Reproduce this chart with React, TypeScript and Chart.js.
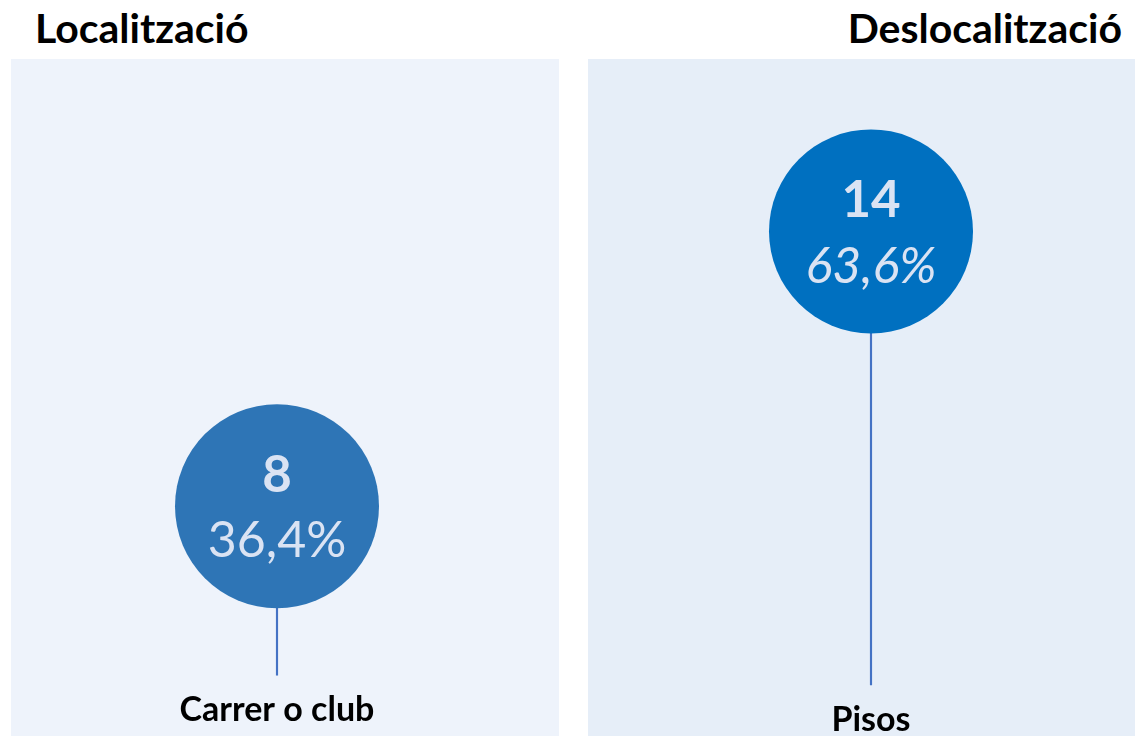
import React, { useEffect, useRef } from "react";
import { Chart, registerables } from "chart.js";

Chart.register(...registerables);

// ---- data ----
const categories = ["Carrer o club", "Pisos"];
const values = [8, 14];
const stemBase = [4.31, 4.1];
const panelTitles = ["Localització", "Deslocalització"];

// ---- styles ----
const circleColors = ["#2E75B6", "#0070C0"];
const percentItalic = [false, true];
const stemColor = "#4472C4";
const innerText = "#DAE3F3";
const FONT = "Lato, 'Open Sans', sans-serif";

const total = values.reduce((a, b) => a + b, 0);
const percentLabels = values.map((v) => ((v / total) * 100).toFixed(1).replace(".", ",") + "%");

const labelPlugin = {
  id: "lollipopLabels",
  afterDatasetsDraw(chart: any) {
    const ctx = chart.ctx;
    const meta = chart.getDatasetMeta(1);
    const y = chart.scales.y;
    ctx.save();
    ctx.textAlign = "center";
    ctx.textBaseline = "middle";
    meta.data.forEach((pt: any, i: number) => {
      ctx.fillStyle = innerText;
      ctx.font = `bold 51px ${FONT}`;
      ctx.fillText(String(values[i]), pt.x, pt.y - 31);
      ctx.font = `${percentItalic[i] ? "italic " : ""}50px ${FONT}`;
      ctx.fillText(percentLabels[i], pt.x, pt.y + 35);
      ctx.fillStyle = "#000000";
      ctx.font = `bold 34px ${FONT}`;
      ctx.fillText(categories[i], pt.x, y.getPixelForValue(stemBase[i]) + 35);
    });
    ctx.restore();
  },
};

export default function App() {
  const ref = useRef<HTMLCanvasElement>(null);
  useEffect(() => {
    const canvas = ref.current;
    if (!canvas) return;
    const chart = new Chart(canvas, {
      type: "bar",
      data: {
        labels: categories,
        datasets: [
          {
            type: "bar",
            data: categories.map((_, i) => [stemBase[i], values[i]]) as any,
            backgroundColor: stemColor,
            barThickness: 1.5,
            order: 2,
            clip: false as any,
          },
          {
            type: "line",
            data: values,
            showLine: false,
            pointRadius: 102,
            pointHoverRadius: 102,
            pointBackgroundColor: circleColors,
            pointBorderWidth: 0,
            borderWidth: 0,
            order: 1,
            clip: false as any,
          } as any,
        ],
      },
      options: {
        animation: false,
        responsive: false,
        maintainAspectRatio: false,
        events: [],
        layout: { autoPadding: false, padding: { left: 277, right: 264, top: 48.2, bottom: 46.6 } },
        plugins: { legend: { display: false }, tooltip: { enabled: false } },
        scales: {
          x: { type: "category", offset: false, display: false },
          y: { min: 4, max: 18, display: false },
        },
      },
      plugins: [labelPlugin],
    });
    return () => chart.destroy();
  }, []);

  const titleStyle: React.CSSProperties = {
    position: "absolute",
    top: 5,
    fontFamily: FONT,
    fontWeight: 700,
    fontSize: 41,
    lineHeight: "46px",
    color: "#000",
    whiteSpace: "nowrap",
  };

  return (
    <div style={{ position: "fixed", left: 0, top: 0, width: 1135, height: 736, background: "#fff", overflow: "hidden" }}>
      <div style={{ position: "absolute", left: 11, top: 59, width: 548, height: 677, background: "#EEF3FB" }} />
      <div style={{ position: "absolute", left: 588, top: 59, width: 547, height: 677, background: "#E6EEF8" }} />
      <div style={{ ...titleStyle, left: 35 }}>{panelTitles[0]}</div>
      <div style={{ ...titleStyle, right: 13 }}>{panelTitles[1]}</div>
      <canvas ref={ref} width={1135} height={736} style={{ position: "absolute", left: 0, top: 0 }} />
    </div>
  );
}
